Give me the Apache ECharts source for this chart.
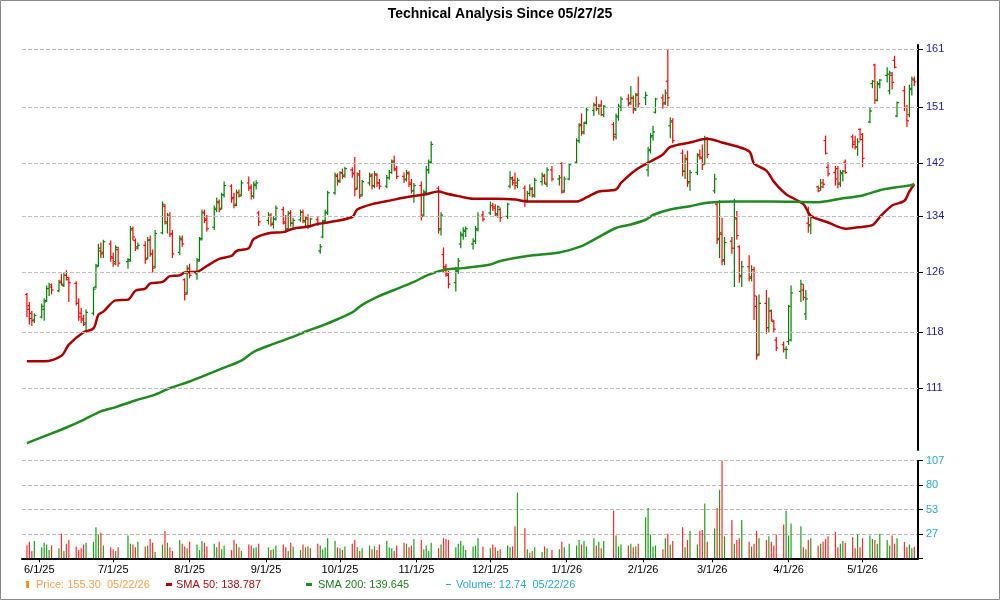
<!DOCTYPE html>
<html>
<head>
<meta charset="utf-8">
<script src="https://cdn.jsdelivr.net/npm/echarts@6/dist/echarts.min.js"></script>
<style>
html, body { margin: 0; padding: 0; background: #fff; }
#chart { width: 1000px; height: 600px; }
</style>
</head>
<body>
<div id="chart"></div>
<script>
// daily bars [open, high, low, close], one row per trading day from 05/27/25
var ohlc = [
[123.0,123.2,120.0,121.0],[121.5,122.0,119.0,119.8],[120.5,120.8,118.8,119.5],[119.6,120.5,119.2,120.2],[120.0,121.8,119.8,121.4],
[121.0,122.5,119.5,122.0],[122.2,124.2,122.0,123.8],[123.8,124.6,122.8,124.3],[124.0,124.5,123.0,123.6],[123.5,125.0,123.3,124.6],
[124.8,125.8,124.2,124.4],[124.2,126.0,124.0,125.6],[125.6,126.3,124.9,125.3],[125.0,125.4,122.0,124.6],[124.5,124.8,121.5,121.8],
[121.8,122.5,119.5,120.0],[120.5,121.2,119.2,119.6],[119.8,120.3,118.8,119.0],[119.2,121.0,118.2,120.6],[120.5,124.0,120.2,123.7],
[124.0,127.2,123.8,126.8],[127.0,130.0,126.8,129.4],[129.0,130.2,128.0,128.6],[128.8,130.6,128.0,130.3],[130.0,130.5,127.5,128.2],
[128.0,128.8,126.8,127.2],[127.5,129.8,127.0,129.5],[129.2,129.6,126.8,127.3],[127.5,128.0,126.5,127.6],[127.8,132.6,127.5,132.0],
[132.2,132.5,130.5,131.0],[130.5,130.8,129.0,129.4],[129.6,130.2,129.2,129.8],[129.8,130.4,127.2,127.8],[128.0,131.0,127.8,130.5],
[130.6,131.2,128.2,128.6],[128.6,129.2,126.0,126.6],[126.8,132.0,126.6,131.5],[131.6,136.2,131.4,135.8],[135.5,135.8,132.8,133.2],
[133.0,134.5,131.5,134.2],[134.0,134.6,131.0,131.4],[131.5,132.0,128.0,128.6],[128.8,131.2,128.4,130.8],[130.6,131.2,129.6,130.0],
[125.0,125.2,122.2,123.0],[123.2,127.0,123.0,126.6],[126.5,127.2,125.2,125.6],[125.8,128.0,125.0,127.6],[127.8,131.0,127.5,130.6],
[130.8,135.0,130.5,134.6],[134.5,135.0,133.0,133.4],[133.6,134.2,131.8,132.2],[132.4,135.6,132.0,135.2],[135.0,136.8,134.6,136.2],
[136.0,136.5,134.6,135.0],[135.2,137.5,135.0,137.2],[137.2,139.2,136.8,138.6],[138.5,138.8,136.0,136.6],[136.8,137.5,135.2,135.6],
[135.8,138.0,135.5,137.6],[137.5,138.0,136.8,137.0],[137.2,139.4,137.0,139.0],[139.0,140.0,137.8,138.2],[138.4,138.8,136.5,137.0],
[137.0,139.2,136.6,138.8],[138.6,139.4,138.0,139.0],[134.5,134.8,132.6,133.2],[133.4,134.6,132.8,134.2],[134.0,134.5,132.5,132.8],
[133.0,134.0,132.2,133.6],[133.6,135.6,133.4,135.2],[135.0,135.4,132.8,133.2],[133.0,134.2,131.6,132.0],[132.2,134.8,132.0,134.4],
[134.5,134.9,132.5,133.0],[133.0,133.8,132.2,133.4],[133.5,135.0,133.2,134.6],[134.6,135.0,133.0,133.4],[133.2,134.0,132.5,133.8],
[133.6,134.3,132.2,132.6],[132.6,133.8,132.4,133.6],[133.5,134.0,132.6,133.0],[129.0,130.0,128.6,129.6],[131.0,133.5,130.8,133.2],
[133.4,135.0,133.0,134.5],[134.6,137.8,134.2,137.5],[137.5,140.6,137.2,140.2],[140.0,140.5,138.6,139.2],[139.4,140.8,139.0,140.6],
[140.5,141.2,139.6,140.0],[140.2,141.5,139.8,141.2],[141.0,141.4,139.8,140.4],[140.5,143.0,137.0,138.0],[138.2,140.6,138.0,140.4],
[140.2,141.0,136.6,137.0],[137.2,139.5,137.0,139.2],[139.0,140.6,138.6,140.0],[140.2,140.5,138.0,138.6],[138.5,140.8,138.2,140.4],
[140.2,140.5,138.4,139.0],[139.0,139.6,138.0,138.5],[138.5,140.2,138.2,139.8],[139.8,141.0,139.5,140.6],[140.6,142.6,140.4,142.2],
[142.4,143.2,140.8,141.2],[141.0,141.6,139.6,140.0],[140.0,140.6,139.0,139.5],[139.6,141.0,139.2,140.6],[140.4,140.8,138.4,138.8],
[139.0,139.6,137.4,137.8],[137.8,139.0,136.0,138.6],[138.6,139.2,133.4,134.0],[134.2,138.0,134.0,137.6],[137.6,141.6,137.4,141.0],
[141.0,142.6,140.4,142.2],[142.2,145.5,142.0,145.0],[138.2,138.5,131.5,132.0],[132.2,134.6,131.2,134.2],[128.5,129.5,126.0,126.6],
[126.8,127.2,125.4,125.8],[125.6,126.2,123.8,124.4],[124.6,126.8,123.4,126.2],[126.2,128.0,125.8,127.6],[130.0,131.8,129.4,131.4],
[131.2,132.4,130.6,132.0],[131.8,132.5,131.0,132.2],[130.0,130.8,129.2,130.4],[130.4,132.6,130.0,132.2],[132.0,134.6,131.8,134.0],
[134.2,134.8,133.2,133.6],[134.5,136.2,134.2,135.6],[135.6,136.0,134.8,135.4],[135.2,135.8,134.0,134.4],[134.2,135.6,133.8,135.4],
[135.0,135.3,133.2,133.8],[134.0,136.0,133.6,135.8],[138.5,140.8,138.2,139.8],[139.6,140.0,138.6,139.0],[139.4,140.6,138.0,138.6],
[139.0,139.8,138.2,139.4],[138.2,138.6,135.4,136.2],[136.4,137.8,136.0,137.4],[137.4,138.8,137.0,138.2],[138.0,138.4,136.8,137.2],
[137.0,139.8,136.8,139.4],[139.2,140.6,138.6,140.2],[140.0,140.4,138.8,139.0],[138.8,141.4,138.4,141.0],[141.0,141.6,139.2,139.6],
[139.6,140.2,138.6,139.8],[142.0,142.2,137.4,137.6],[137.8,140.0,137.5,139.6],[139.6,142.0,139.4,141.8],[142.2,146.0,142.0,145.6],
[145.6,148.4,145.2,148.0],[148.2,150.0,146.4,146.8],[147.0,148.6,146.6,148.4],[148.6,151.0,148.2,150.6],[150.5,151.8,149.6,151.4],
[151.4,152.8,150.4,150.8],[150.8,151.6,149.8,151.2],[151.4,152.2,149.6,149.8],[149.8,151.4,149.4,151.2],[148.2,148.6,145.6,146.2],
[146.6,150.0,145.8,149.6],[149.4,151.6,148.8,151.2],[151.0,152.8,150.4,152.4],[152.4,153.2,151.2,151.6],[151.8,154.6,151.4,152.6],
[152.5,153.0,150.0,150.6],[150.8,153.4,150.4,153.0],[153.2,156.2,151.0,151.6],[152.6,153.6,151.4,153.0],[141.0,144.6,140.0,144.0],
[144.2,146.8,143.6,146.2],[146.4,148.0,145.6,147.0],[150.2,152.6,150.0,152.4],[152.6,153.2,150.8,151.6],[151.8,154.0,151.4,153.4],
[155.4,161.0,151.2,152.6],[148.0,149.4,146.0,148.6],[148.8,149.2,145.2,145.6],[143.6,144.2,140.0,140.8],[140.8,143.4,139.6,142.8],
[142.6,144.0,138.4,139.0],[139.2,141.0,137.8,140.6],[140.6,143.6,140.2,143.2],[143.4,144.2,142.6,143.0],[142.8,145.0,141.0,141.8],
[142.0,146.4,141.8,146.0],[145.8,146.2,142.8,143.4],[137.8,140.4,137.4,139.6],[135.8,136.0,130.0,130.6],[130.8,136.4,128.0,131.6],
[131.4,133.8,127.0,127.6],[127.8,131.0,127.0,130.2],[130.4,131.0,128.6,129.4],[126.0,136.6,124.0,133.8],[133.6,134.8,130.6,131.2],
[129.6,129.8,124.6,125.4],[125.6,127.6,124.0,126.8],[126.8,128.4,124.8,125.2],[125.4,127.0,124.8,126.4],[126.4,126.8,119.6,122.8],
[121.4,122.8,114.5,115.0],[115.2,123.0,115.0,121.8],[121.8,123.6,117.8,118.6],[118.6,122.6,118.0,120.8],[120.8,121.0,119.4,119.6],
[119.4,119.6,118.0,118.4],[117.0,117.4,115.6,116.0],[116.4,116.8,115.4,115.8],[115.8,116.2,114.6,115.8],[116.8,121.6,116.4,121.4],
[117.0,124.2,116.8,123.2],[123.4,125.0,122.0,124.4],[123.6,124.4,122.2,122.6],[120.4,123.6,119.6,122.4],[133.0,135.4,131.6,132.6],
[132.8,134.2,131.4,133.8],[138.4,138.6,137.6,137.8],[138.2,139.6,137.8,138.4],[139.0,139.6,138.2,138.8],[145.6,146.4,143.4,143.6],
[141.4,142.2,140.0,140.4],[140.6,141.6,138.6,139.6],[141.2,141.6,138.2,138.8],[139.0,141.0,138.4,140.6],[140.4,141.0,139.2,140.8],
[142.2,142.6,140.4,140.6],[146.2,146.6,144.4,145.0],[145.4,146.4,144.2,144.6],[144.6,146.0,143.2,145.4],[147.4,147.6,145.6,145.8],
[146.6,146.8,141.4,142.8],[148.6,151.0,148.4,150.4],[155.0,155.6,154.2,155.4],[158.2,158.4,151.6,152.2],[152.2,155.4,152.0,154.8],
[155.0,155.8,154.2,155.6],[156.4,157.8,155.2,156.6],[153.8,157.2,153.2,156.8],[156.4,157.0,154.0,155.2],[159.0,159.8,157.6,157.8],
[149.6,152.0,149.4,151.8],[153.8,154.6,150.4,151.0],[151.0,151.4,147.8,148.8],[149.8,154.8,149.4,154.0],[154.2,156.2,153.0,155.8],
[155.6,156.2,154.6,155.3]
];

// volume (millions)
var volume = [
14,18,8,19,12,17,15,9,14,11, 27,8,16,20,13,9,11,15,17,18,
34,26,28,14,12,10,8,12,25,16, 15,12,18,13,14,21,17,7,15,30,
17,12,8,20,16,13,11,18,15,9, 19,17,13,16,12,18,10,14,9,20,
16,12,8,15,14,11,12,16,12,9, 10,14,15,12,8,17,13,9,15,12,
13,11,16,14,10,12,22,19,12,11, 9,13,16,20,12,8,11,14,10,13,
9,15,19,12,11,8,14,17,16,12, 14,21,20,10,14,8,17,11,15,22,
21,20,12,16,19,14,9,13,14,22, 13,11,15,12,8,10,14,12,13,35,
72,33,10,6,8,12,7,13,11,9, 10,18,12,16,14,20,15,19,13,22,
14,18,11,19,52,25,13,15,14,16, 12,13,16,45,55,26,13,14,10,22,
27,15,19,34,12,20,30,15,30,31, 60,18,33,55,75,107,24,42,16,20,
22,42,18,13,16,30,22,20,24,18, 14,26,37,52,25,38,35,12,10,20,
22,14,16,18,21,24,29,12,16,19, 17,23,11,26,12,22,25,21,20,16,
27,20,14,25,16,22,18,12,15,11, 12.74
];

// moving averages read at [trading day index, value]
var sma50 = [
[0,114.3],[5,114.3],[10,115.0],[13,116.4],[17,118.0],[19,118.5],[21,120.3],[23,120.7],[26,122.2],[28,122.3],
[31,123.5],[33,123.8],[35,124.5],[38,124.7],[41,125.5],[43,125.6],[45,126.0],[48,126.1],[52,126.9],[55,127.9],
[58,128.3],[60,129.0],[63,129.4],[65,130.7],[69,131.6],[72,131.7],[76,132.2],[80,132.5],[82,132.9],[86,133.1],
[92,133.9],[94,135.0],[98,135.8],[104,136.4],[109,136.9],[114,137.3],[117,137.7],[120,137.4],[123,137.0],[127,136.6],
[133,136.6],[139,136.5],[142,136.2],[154,136.2],[158,136.8],[161,137.7],[165,138.0],[167,139.0],[171,141.0],[175,142.3],
[178,143.4],[181,144.6],[186,145.3],[191,145.9],[195,145.3],[202,143.9],[204,142.0],[207,140.9],[210,139.2],[213,137.3],
[217,135.8],[220,134.1],[225,133.1],[230,132.2],[233,132.4],[237,132.7],[240,133.9],[243,135.6],[246,136.3],[248,137.7],
[250,138.8]
];
var sma200 = [
[0,104.5],[7,105.5],[12,106.3],[17,107.2],[22,108.2],[26,108.7],[31,109.5],[37,110.2],[41,111.0],[47,111.8],
[50,112.4],[56,113.4],[62,114.4],[65,115.5],[70,116.5],[75,117.3],[80,118.2],[84,118.9],[88,119.7],[92,120.6],
[96,121.6],[101,122.8],[105,123.6],[111,124.7],[115,125.7],[120,126.4],[125,126.6],[131,127.1],[135,127.6],[142,128.3],
[150,128.8],[156,129.7],[160,130.8],[165,132.3],[169,132.8],[173,133.5],[176,134.2],[181,135.0],[186,135.5],[191,136.0],
[198,136.2],[209,136.2],[221,136.1],[228,136.6],[235,137.1],[240,137.9],[244,138.3],[248,138.6],[250,138.8]
];

var priceTicks = [161, 151, 142, 134, 126, 118, 111];

// trading days 05/27/25 .. 05/22/26
var holidays = ['2025-07-04', '2025-09-01', '2025-11-27', '2025-12-25', '2026-01-01', '2026-01-19', '2026-02-16', '2026-04-03'];
var dates = [];
var d = new Date(Date.UTC(2025, 4, 27));
while (dates.length < ohlc.length) {
    var wd = d.getUTCDay();
    var s = d.toISOString().slice(0, 10);
    if (wd !== 0 && wd !== 6 && holidays.indexOf(s) < 0) dates.push(d.getTime());
    d = new Date(d.getTime() + 86400000);
}
var monthStarts = [];
for (var m = 0; m < 12; m++) monthStarts.push(Date.UTC(2025, 5 + m, 1));

// log price scale: one grid step = x1.064, 0 at 161
var STEP = Math.log(1.064);
function lp(v) { return Math.log(v / 161) / STEP; }
function unlp(u) { return 161 * Math.exp(u * STEP); }
var yMin = -7.09, yMax = 0.07;
var xMin = Date.UTC(2025, 4, 25), xMax = Date.UTC(2026, 4, 23, 12);
var DAY = 86400000;
function px(t) { return (t - xMin) / DAY; }   // x in days from the left edge

var UP = '#008000', DOWN = '#ff0000';
var barData = ohlc.map(function (r, i) {
    return [px(dates[i]), lp(r[0]), lp(r[1]), lp(r[2]), lp(r[3])];
});
var volData = volume.map(function (v, i) {
    var up = ohlc[i][3] >= ohlc[i][0];
    return { value: [px(dates[i]), v], itemStyle: { color: up ? '#1aa01a' : '#ff2a2a' } };
});
var monthTicks = monthStarts.map(px);

var myChart = echarts.init(document.getElementById('chart'));
var font = 'Liberation Sans, Arial';

var option = {
    animation: false,
    backgroundColor: '#fff',
    title: {
        text: 'Technical Analysis Since 05/27/25',
        left: 'center', top: 2,
        textStyle: { fontFamily: font, fontSize: 14, fontWeight: 'bold', color: '#000' }
    },
    grid: [
        { left: 22, right: 82, top: 45, height: 405 },
        { left: 22, right: 82, top: 460.7, height: 97.6 }
    ],
    xAxis: [
        { type: 'value', gridIndex: 0, min: 0, max: px(xMax), axisLine: { show: false }, axisTick: { show: false },
          axisLabel: { show: false }, splitLine: { show: false } },
        { type: 'value', gridIndex: 1, min: 0, max: px(xMax),
          axisLine: { show: true, onZero: false, lineStyle: { color: '#000', width: 2 } },
          axisTick: { show: true, customValues: monthTicks, length: 4, lineStyle: { color: '#000' } },
          axisLabel: { customValues: monthTicks, fontSize: 11, color: '#000', fontFamily: font, margin: 6,
              formatter: function (v) { var t = new Date(xMin + v * DAY); return (t.getUTCMonth() + 1) + '/' + t.getUTCDate() + '/' + String(t.getUTCFullYear()).slice(2); } },
          splitLine: { show: false } }
    ],
    yAxis: [
        { type: 'value', gridIndex: 0, position: 'right', min: yMin, max: yMax,
          axisLine: { show: true, onZero: false, lineStyle: { color: '#000', width: 2 } },
          axisTick: { show: true, customValues: priceTicks.map(lp), length: 5, lineStyle: { color: '#000' } },
          axisLabel: { customValues: priceTicks.map(lp), color: '#1a1aa8', fontSize: 11, fontFamily: font,
              formatter: function (v) { return Math.round(unlp(v)); } },
          splitLine: { show: false } },
        { type: 'value', gridIndex: 1, position: 'right', min: 0, max: 106.8, interval: 26.7,
          axisLine: { show: true, onZero: false, lineStyle: { color: '#000', width: 2 } },
          axisTick: { show: true, length: 5, lineStyle: { color: '#000' } },
          axisLabel: { color: '#2aa8c8', fontSize: 11, fontFamily: font,
              formatter: function (v) { return v === 0 ? '' : Math.round(v); } },
          splitLine: { show: true, lineStyle: { color: '#b8b8b8', type: 'dashed' } } }
    ],
    series: [
        {
            type: 'line', xAxisIndex: 0, yAxisIndex: 0, data: [], silent: true,
            markLine: {
                silent: true, symbol: 'none', label: { show: false },
                lineStyle: { color: '#bdbdbd', type: 'dashed', width: 1 },
                data: priceTicks.map(function (t) { return { yAxis: lp(t) }; })
            }
        },
        {
            type: 'custom', xAxisIndex: 0, yAxisIndex: 0, data: barData,
            renderItem: function (params, api) {
                var x = api.coord([api.value(0), 0])[0];
                var o = api.coord([api.value(0), api.value(1)])[1];
                var h = api.coord([api.value(0), api.value(2)])[1];
                var l = api.coord([api.value(0), api.value(3)])[1];
                var c = api.coord([api.value(0), api.value(4)])[1];
                var col = api.value(4) >= api.value(1) ? UP : DOWN;
                var st = { stroke: col, lineWidth: 1.2 };
                return { type: 'group', children: [
                    { type: 'line', shape: { x1: x, y1: h, x2: x, y2: l }, style: st },
                    { type: 'line', shape: { x1: x - 2, y1: o, x2: x, y2: o }, style: st },
                    { type: 'line', shape: { x1: x, y1: c, x2: x + 2, y2: c }, style: st }
                ] };
            }
        },
        {
            type: 'line', xAxisIndex: 0, yAxisIndex: 0, symbol: 'none', smooth: 0.3,
            data: sma50.map(function (p) { return [px(dates[p[0]]), lp(p[1])]; }),
            lineStyle: { color: '#a80000', width: 2.5 }
        },
        {
            type: 'line', xAxisIndex: 0, yAxisIndex: 0, symbol: 'none', smooth: 0.3,
            data: sma200.map(function (p) { return [px(dates[p[0]]), lp(p[1])]; }),
            lineStyle: { color: '#1f8a1f', width: 2.5 }
        },
        {
            type: 'bar', xAxisIndex: 1, yAxisIndex: 1, data: volData, barWidth: 1.2
        }
    ],
    graphic: [
        { type: 'rect', shape: { x: 0.5, y: 0.5, width: 999, height: 599 }, style: { fill: 'none', stroke: '#888', lineWidth: 1 } },
        { type: 'rect', shape: { x: 26, y: 581, width: 3, height: 7 }, style: { fill: '#f7941d' } },
        { type: 'text', x: 36, y: 579, style: { text: 'Price: 155.30  05/22/26', fill: '#f7a050', font: '11px Liberation Sans, Arial' } },
        { type: 'rect', shape: { x: 166, y: 583, width: 6, height: 3 }, style: { fill: '#b00000' } },
        { type: 'text', x: 176, y: 579, style: { text: 'SMA 50: 138.787', fill: '#a01010', font: '11px Liberation Sans, Arial' } },
        { type: 'rect', shape: { x: 306, y: 583, width: 6, height: 3 }, style: { fill: '#1f8a1f' } },
        { type: 'text', x: 318, y: 579, style: { text: 'SMA 200: 139.645', fill: '#1f7a1f', font: '11px Liberation Sans, Arial' } },
        { type: 'rect', shape: { x: 446, y: 584, width: 5, height: 1 }, style: { fill: '#2aa8c8' } },
        { type: 'text', x: 456, y: 579, style: { text: 'Volume: 12.74  05/22/26', fill: '#2aa8c8', font: '11px Liberation Sans, Arial' } }
    ]
};
myChart.setOption(option);
</script>
</body>
</html>
